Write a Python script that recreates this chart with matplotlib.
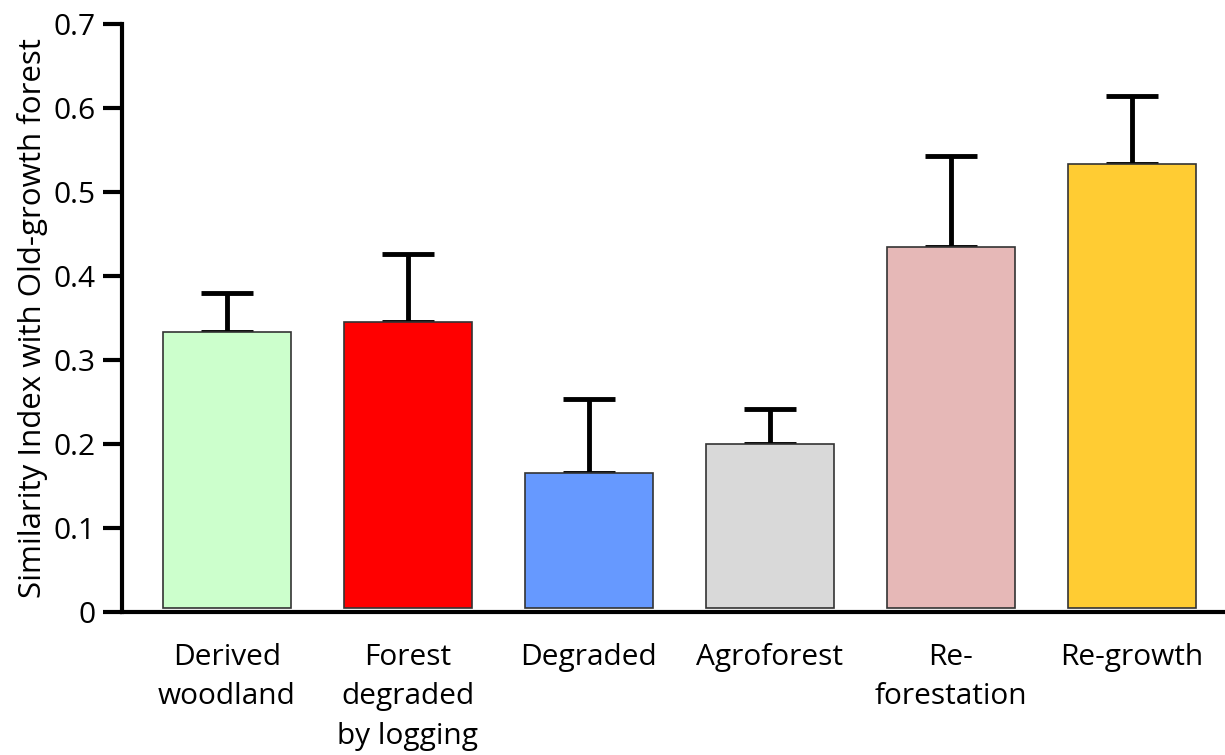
import matplotlib
matplotlib.use("Agg")
import matplotlib.pyplot as plt

categories = ["Derived\nwoodland", "Forest\ndegraded\nby logging", "Degraded",
              "Agroforest", "Re-\nforestation", "Re-growth"]
values = [0.333, 0.345, 0.165, 0.200, 0.435, 0.533]
errors = [0.047, 0.081, 0.089, 0.042, 0.108, 0.081]
colors = ["#CCFFCC", "#FF0000", "#6699FF", "#D9D9D9", "#E6B8B7", "#FFCC33"]
yticks = [0, 0.1, 0.2, 0.3, 0.4, 0.5, 0.6, 0.7]
ytick_labels = ["0", "0.1", "0.2", "0.3", "0.4", "0.5", "0.6", "0.7"]

plt.rcParams['font.family'] = ['Open Sans', 'DejaVu Sans']

fig = plt.figure(figsize=(12.25, 7.55), dpi=100)
ax = fig.add_axes([122/1225, 1-612/755, 1-122/1225, (612-24)/755])

x = list(range(len(categories)))
base = 0.005
heights = [v - base for v in values]
ax.bar(x, heights, bottom=base, width=0.707, color=colors, edgecolor="#333333",
       linewidth=1.2, zorder=2)
ax.errorbar(x, values, yerr=[[0]*len(errors), errors], fmt="none", ecolor="black",
            elinewidth=3.5, capsize=19, capthick=3.5, zorder=1)

ax.set_xlim(-0.58, 5.514)
ax.set_ylim(0, 0.7)
ax.set_yticks(yticks)
ax.set_yticklabels(ytick_labels, fontsize=21.5)
ax.set_xticks(x)
ax.set_xticklabels(categories, fontsize=21.5, linespacing=1.48, va="top")
ax.tick_params(axis="x", length=0, pad=22)
ax.tick_params(axis="y", length=14, width=3, pad=5, direction="out")

for s in ["top", "right"]:
    ax.spines[s].set_visible(False)
for s in ["left", "bottom"]:
    ax.spines[s].set_linewidth(3)

ax.set_ylabel("Similarity Index with Old-growth forest", fontsize=22.5, labelpad=4)

fig.savefig("out.png", dpi=100)
